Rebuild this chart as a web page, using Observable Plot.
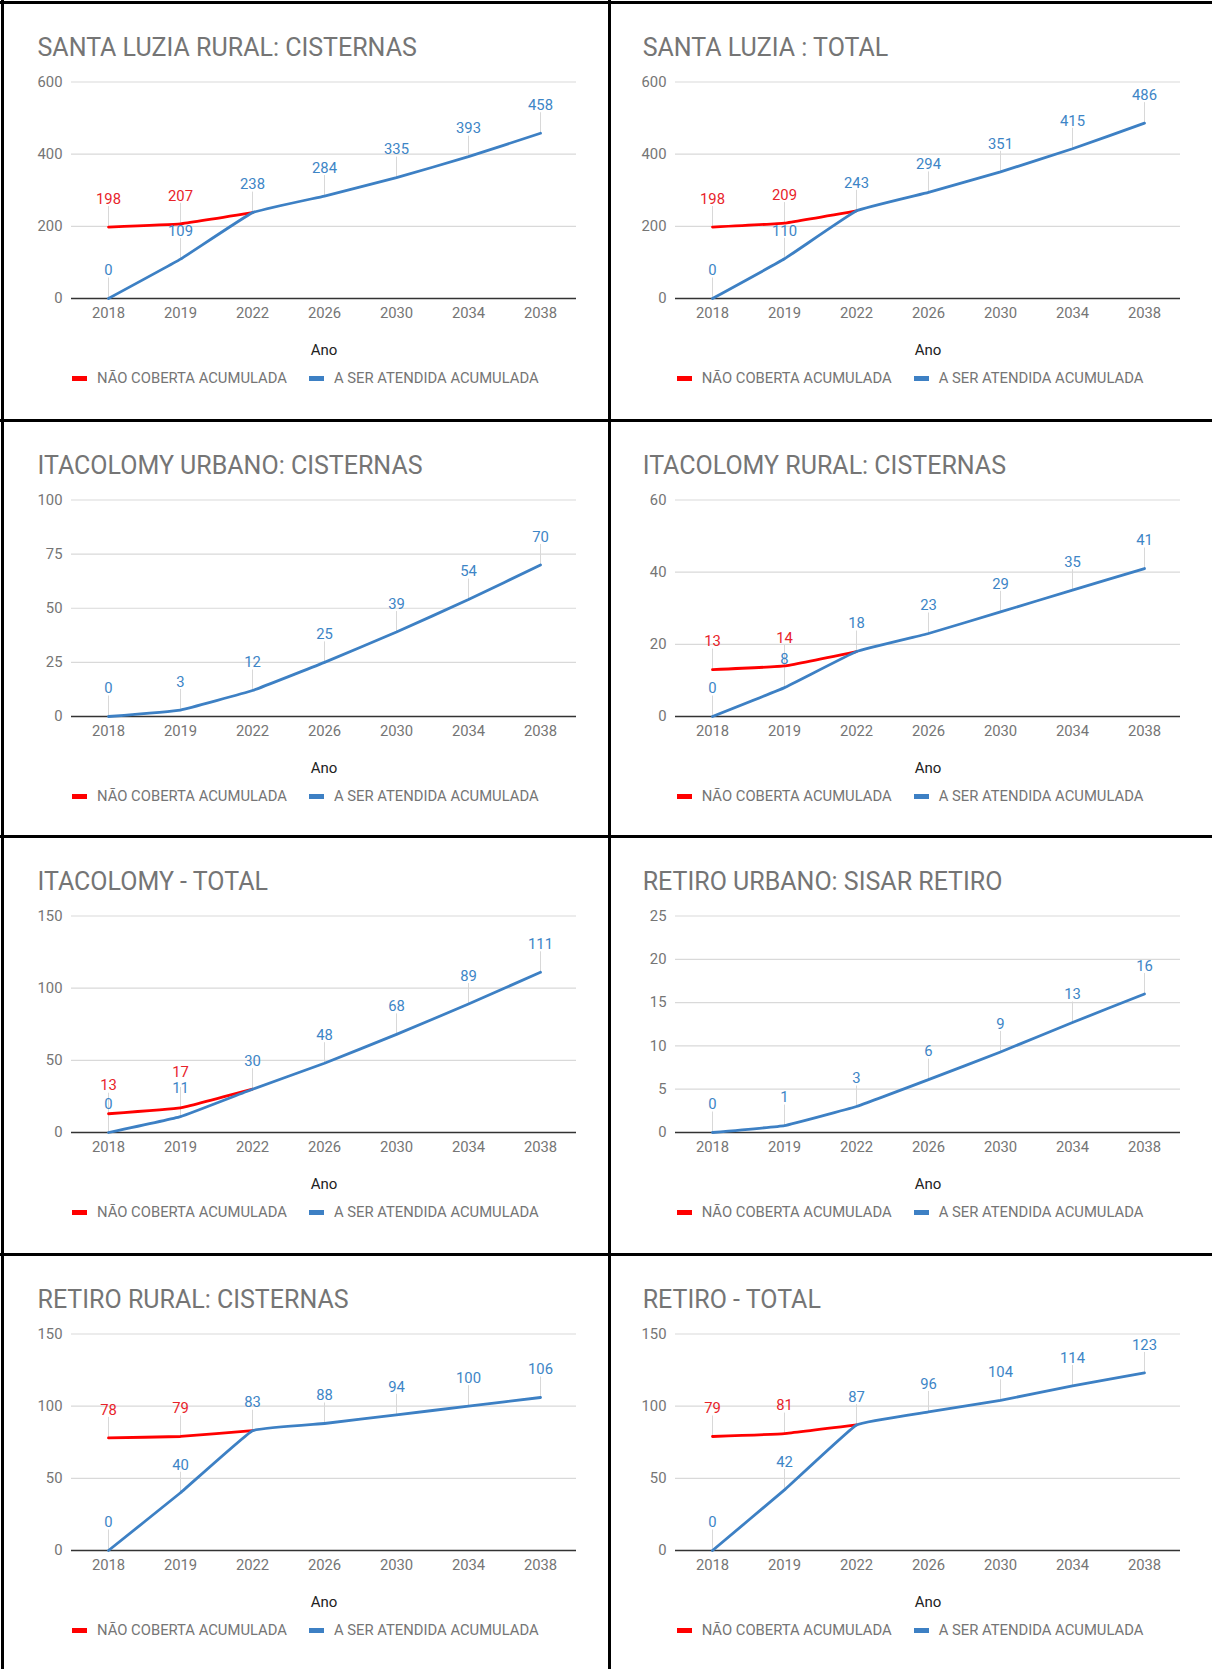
<!DOCTYPE html>
<html><head><meta charset="utf-8">
<script src="https://cdn.jsdelivr.net/npm/d3@7"></script>
<script src="https://cdn.jsdelivr.net/npm/@observablehq/plot@0.6"></script>
<style>
html,body{margin:0;padding:0;background:#fff;}
#page{position:relative;width:1212px;height:1669px;overflow:hidden;font-family:Roboto,sans-serif;background:#fff;}
.panel{position:absolute;}
.panel svg{position:absolute;left:0;top:0;}
.title{position:absolute;font-size:25px;line-height:25px;color:#757575;white-space:nowrap;}
.legend{position:absolute;display:flex;align-items:center;font-size:14.8px;line-height:20px;color:#757575;white-space:nowrap;height:20px;}
.item{display:flex;align-items:center;margin-right:22px;}
.sw{display:inline-block;width:15px;height:5px;margin-right:10px;}
.bl{position:absolute;background:#000;}
</style></head><body><div id="page"></div>
<script>
// ---- data ----
const years = ["2018", "2019", "2022", "2026", "2030", "2034", "2038"];
const seriesNames = ["NÃO COBERTA ACUMULADA", "A SER ATENDIDA ACUMULADA"];
const seriesColors = ["#ff0000", "#3d80c4"];
const labelColors = ["#e8232a", "#3d85c6"];

const titles = [
  "SANTA LUZIA RURAL: CISTERNAS",
  "SANTA LUZIA : TOTAL",
  "ITACOLOMY URBANO: CISTERNAS",
  "ITACOLOMY RURAL: CISTERNAS",
  "ITACOLOMY - TOTAL",
  "RETIRO URBANO: SISAR RETIRO",
  "RETIRO RURAL: CISTERNAS",
  "RETIRO - TOTAL"
];

// "NÃO COBERTA ACUMULADA" (2018, 2019, 2022)
const naoSantaLuziaRural = [198, 207, 238];
const naoSantaLuziaTotal = [198, 209, 243];
const naoItacolomyUrbano = [];
const naoItacolomyRural = [13, 14, 18];
const naoItacolomyTotal = [13, 17, 30];
const naoRetiroUrbano = [];
const naoRetiroRural = [78, 79, 83];
const naoRetiroTotal = [79, 81, 87];

// "A SER ATENDIDA ACUMULADA" (2018 ... 2038)
const atSantaLuziaRural = [0, 109, 238, 284, 335, 393, 458];
const atSantaLuziaTotal = [0, 110, 243, 294, 351, 415, 486];
const atItacolomyUrbano = [0, 3, 12, 25, 39, 54, 70];
const atItacolomyRural = [0, 8, 18, 23, 29, 35, 41];
const atItacolomyTotal = [0, 11, 30, 48, 68, 89, 111];
const atRetiroUrbano = [0, 0.8, 3, 6.1, 9.3, 12.7, 16];
const atRetiroRural = [0, 40, 83, 88, 94, 100, 106];
const atRetiroTotal = [0, 42, 87, 96, 104, 114, 123];

// y-axis tick labels
const ticksSantaLuziaRural = [0, 200, 400, 600];
const ticksSantaLuziaTotal = [0, 200, 400, 600];
const ticksItacolomyUrbano = [0, 25, 50, 75, 100];
const ticksItacolomyRural = [0, 20, 40, 60];
const ticksItacolomyTotal = [0, 50, 100, 150];
const ticksRetiroUrbano = [0, 5, 10, 15, 20, 25];
const ticksRetiroRural = [0, 50, 100, 150];
const ticksRetiroTotal = [0, 50, 100, 150];

const naoList = [naoSantaLuziaRural, naoSantaLuziaTotal, naoItacolomyUrbano, naoItacolomyRural, naoItacolomyTotal, naoRetiroUrbano, naoRetiroRural, naoRetiroTotal];
const atList = [atSantaLuziaRural, atSantaLuziaTotal, atItacolomyUrbano, atItacolomyRural, atItacolomyTotal, atRetiroUrbano, atRetiroRural, atRetiroTotal];
const tickList = [ticksSantaLuziaRural, ticksSantaLuziaTotal, ticksItacolomyUrbano, ticksItacolomyRural, ticksItacolomyTotal, ticksRetiroUrbano, ticksRetiroRural, ticksRetiroTotal];

// ---- layout ----
const page = document.getElementById("page");
const cols = [
  {left: 0, width: 609, mL: 71, mR: 33, titleX: 37.5, legendX: 72},
  {left: 609, width: 603, mL: 66, mR: 32, titleX: 33.7, legendX: 67.7}
];
const rowTops = [2, 420, 836, 1254];
const plotH = 360, mT = 79.5, mB = 64;
const innerH = plotH - mT - mB;

const leader = {draw(ctx) { ctx.moveTo(0, 0); ctx.lineTo(0, -21); }};

titles.forEach((title, i) => {
  const col = cols[i % 2];
  const top = rowTops[Math.floor(i / 2)];
  const panel = document.createElement("div");
  panel.className = "panel";
  panel.style.left = col.left + "px";
  panel.style.top = top + "px";
  panel.style.width = col.width + "px";
  panel.style.height = "415px";

  const ticks = tickList[i];
  const yMax = ticks[ticks.length - 1];
  const red = naoList[i].map((v, k) => ({year: years[k], v}));
  const blue = atList[i].map((v, k) => ({year: years[k], v}));
  // red labels only where they don't coincide with the blue one; nudge up when crowded
  const redLab = red.filter((d, k) => k < 2).map((d, k) => {
    const gap = (d.v - blue[k].v) / yMax * innerH;
    const extra = gap < 16 ? 16 - gap : 0;
    return {...d, dy: -28 - extra};
  });

  const chart = Plot.plot({
    width: col.width,
    height: plotH,
    marginLeft: col.mL,
    marginRight: col.mR,
    marginTop: mT,
    marginBottom: mB,
    style: {fontFamily: "Roboto", fontSize: "14.8px", color: "#757575", background: "transparent", overflow: "visible"},
    x: {type: "point", domain: years, padding: 0.5, label: null},
    y: {domain: [0, yMax], label: null},
    marks: [
      Plot.ruleY(ticks.filter(t => t > 0), {stroke: "#d9d9d9", strokeWidth: 1.2}),
      Plot.axisY({ticks, tickSize: 0, tickPadding: 9, label: null, fill: "#757575"}),
      Plot.axisX({tickSize: 0, tickPadding: 9, label: null, fill: "#757575"}),
      Plot.text(["Ano"], {frameAnchor: "bottom", dy: 52, lineAnchor: "middle", fill: "#222", fontSize: 15}),
      Plot.dot(redLab, {x: "year", y: "v", symbol: leader, stroke: "#d8d8d8", strokeWidth: 1, fill: "none", r: 1}),
      Plot.dot(blue, {x: "year", y: "v", symbol: leader, stroke: "#d8d8d8", strokeWidth: 1, fill: "none", r: 1}),
      Plot.ruleY([0], {stroke: "#333", strokeWidth: 1.6}),
      Plot.line(red, {x: "year", y: "v", stroke: seriesColors[0], strokeWidth: 2.8, curve: "cardinal", tension: 0.75}),
      Plot.line(blue, {x: "year", y: "v", stroke: seriesColors[1], strokeWidth: 2.8, curve: "cardinal", tension: 0.75}),
      ...redLab.map(d => Plot.text([d], {x: "year", y: "v", text: e => String(Math.round(e.v)), dy: d.dy, lineAnchor: "middle", fill: labelColors[0], fontSize: 14.8})),
      Plot.text(blue, {x: "year", y: "v", text: d => String(Math.round(d.v)), dy: -28, lineAnchor: "middle", fill: labelColors[1], fontSize: 14.8})
    ]
  });
  panel.appendChild(chart);

  const t = document.createElement("div");
  t.className = "title";
  t.textContent = title;
  t.style.left = col.titleX + "px";
  t.style.top = "33px";
  panel.appendChild(t);

  const lg = document.createElement("div");
  lg.className = "legend";
  lg.style.left = col.legendX + "px";
  lg.style.top = "366px";
  seriesNames.forEach((name, k) => {
    const it = document.createElement("span");
    it.className = "item";
    const sw = document.createElement("span");
    sw.className = "sw";
    sw.style.background = seriesColors[k];
    it.appendChild(sw);
    const tx = document.createElement("span");
    tx.textContent = name;
    it.appendChild(tx);
    lg.appendChild(it);
  });
  panel.appendChild(lg);
  page.appendChild(panel);
});

// frame lines between panels
[
  {left: 0, top: 1, width: 1212, height: 3},
  {left: 1, top: 0, width: 3, height: 1669},
  {left: 608, top: 0, width: 2.5, height: 1669},
  {left: 0, top: 419, width: 1212, height: 2.5},
  {left: 0, top: 835, width: 1212, height: 2.5},
  {left: 0, top: 1253, width: 1212, height: 2.5}
].forEach(b => {
  const d = document.createElement("div");
  d.className = "bl";
  Object.assign(d.style, {left: b.left + "px", top: b.top + "px", width: b.width + "px", height: b.height + "px"});
  page.appendChild(d);
});
</script></body></html>
